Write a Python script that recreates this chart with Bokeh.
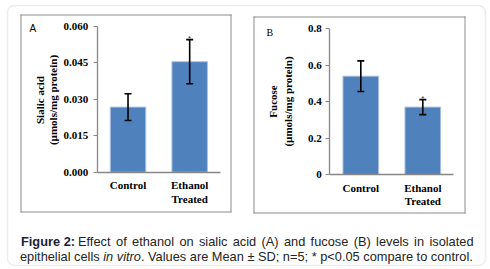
import math
from bokeh.plotting import figure
from bokeh.models import (Range1d, LinearAxis, FixedTicker, ColumnDataSource,
                          Whisker, TeeHead, Label, BoxAnnotation)
from bokeh.embed import file_html
from bokeh.resources import INLINE

# ---------------- data ----------------
categories = ["Control", "Ethanol\nTreated"]
sialic_mean = [0.0268, 0.0455]
sialic_sd = [0.0055, 0.0091]
sialic_sig = ["", "*"]
fucose_mean = [0.540, 0.370]
fucose_sd = [0.084, 0.041]
fucose_sig = ["", "*"]
sialic_ticks = [0.0, 0.015, 0.030, 0.045, 0.060]
sialic_tick_labels = ["0.000", "0.015", "0.030", "0.045", "0.060"]
fucose_ticks = [0.0, 0.2, 0.4, 0.6, 0.8]
fucose_tick_labels = ["0", "0.2", "0.4", "0.6", "0.8"]
sialic_title = "Sialic acid\n(\u00b5mols/mg protein)"
fucose_title = "Fucose\n(\u00b5mols/mg protein)"
caption_head = "Figure 2:"
caption_line1 = "Effect of ethanol on sialic acid (A) and fucose (B) levels in isolated"
caption_line2a = "epithelial cells "
caption_line2b = "in vitro"
caption_line2c = ". Values are Mean \u00b1 SD; n=5; * p<0.05 compare to control."

# ---------------- canvas geometry (page pixels) ----------------
OX, OY = 6, 4
W, H = 482, 262


def gx(px):
    return px - OX


def gy(py):
    return H - (py - OY)


p = figure(width=W, height=H, x_range=Range1d(0, W), y_range=Range1d(0, H),
           x_axis_type=None, y_axis_type=None, toolbar_location=None,
           output_backend="svg", min_border=0, title=None,
           margin=(OY, 0, 0, OX))
p.outline_line_color = None
p.background_fill_color = "white"
p.border_fill_color = "white"

SERIF = "Liberation Serif"
SANS = "Liberation Sans"
AXIS_COLOR = "#878787"
BOX_COLOR = "#8c8c8c"

# outer rounded frame
p.add_layout(BoxAnnotation(left=gx(7), right=gx(485), top=gy(5), bottom=gy(265),
                           fill_color=None, line_color="#c4c4c4", line_width=1.5,
                           border_radius=7))

# panel boxes drawn as thin filled strips (one per edge)
panel_boxes = [(20, 231, 14, 212), (253, 465, 16, 213)]
ql, qr, qt, qb = [], [], [], []
for l, r, t, b in panel_boxes:
    strips = [(l, r, t, t + 1),        # top
              (l, r, b - 1, b),        # bottom
              (l, l + 1, t, b),        # left
              (r - 1, r, t, b)]        # right
    for (a, c, d, e) in strips:
        ql.append(gx(a)); qr.append(gx(c)); qt.append(gy(d)); qb.append(gy(e))
p.quad(left=ql, right=qr, top=qt, bottom=qb, fill_color=BOX_COLOR,
       line_color=None, level="overlay")


def add_panel(name, means, sds, sig, ticks, tick_labels, geom, standoff):
    ax_x, ax_y0, ax_ytop, ax_xend = geom
    ymax = ticks[-1]
    ncat = len(categories)
    sx = (ax_xend - ax_x) / ncat
    p.extra_x_ranges[name] = Range1d(-gx(ax_x) / sx, (W - gx(ax_x)) / sx)
    sy = (ax_y0 - ax_ytop) / ymax
    c0 = gy(ax_y0)
    p.extra_y_ranges[name] = Range1d(-c0 / sy, (H - c0) / sy)

    xs = [i + 0.5 for i in range(ncat)]
    src = ColumnDataSource(dict(
        x=xs, mean=means,
        upper=[m + s for m, s in zip(means, sds)],
        lower=[m - s for m, s in zip(means, sds)],
        sig=sig))

    p.vbar(x="x", top="mean", width=0.575, source=src,
           x_range_name=name, y_range_name=name,
           fill_color="#4F81BD", line_color="#a9c0df", line_width=1)

    wh = Whisker(source=src, base="x", upper="upper", lower="lower",
                 dimension="height", x_range_name=name, y_range_name=name,
                 level="overlay",
                 line_color="black", line_width=1.6,
                 upper_head=TeeHead(size=7, line_color="black", line_width=1.6),
                 lower_head=TeeHead(size=7, line_color="black", line_width=1.6))
    p.add_layout(wh)

    p.text(x="x", y="upper", text="sig", source=src,
           x_range_name=name, y_range_name=name,
           text_align="center", text_baseline="middle",
           text_font_size="8px", text_color="#333333", y_offset=-1.5)

    yaxis = LinearAxis(x_range_name=name, y_range_name=name, fixed_location=0,
                       bounds=(0, ymax), ticker=FixedTicker(ticks=ticks),
                       major_label_overrides={t: l for t, l in zip(ticks, tick_labels)},
                       major_tick_out=4, major_tick_in=0,
                       minor_tick_line_color=None,
                       axis_line_color=AXIS_COLOR, major_tick_line_color=AXIS_COLOR,
                       axis_line_width=1.3,
                       major_label_text_font=SERIF,
                       major_label_text_font_style="bold",
                       major_label_text_font_size="11px",
                       major_label_text_color="black",
                       major_label_standoff=standoff)
    p.add_layout(yaxis, "left")

    xaxis = LinearAxis(x_range_name=name, y_range_name=name, fixed_location=0,
                       bounds=(0, ncat), ticker=FixedTicker(ticks=xs),
                       major_label_overrides={x: c for x, c in zip(xs, categories)},
                       major_tick_out=0, major_tick_in=0,
                       major_tick_line_color=None, minor_tick_line_color=None,
                       axis_line_color=AXIS_COLOR, axis_line_width=1.3,
                       major_label_text_font=SERIF,
                       major_label_text_font_style="bold",
                       major_label_text_font_size="11px",
                       major_label_text_color="black",
                       major_label_text_line_height=1.15,
                       major_label_standoff=7)
    p.add_layout(xaxis, "below")


add_panel("A", sialic_mean, sialic_sd, sialic_sig, sialic_ticks, sialic_tick_labels,
          (96.7, 171.7, 26.0, 220.0), 5)
add_panel("B", fucose_mean, fucose_sd, fucose_sig, fucose_ticks, fucose_tick_labels,
          (329.3, 174.0, 28.3, 453.3), 4)

# axis titles
p.add_layout(Label(x=gx(46), y=gy(99.5), text=sialic_title, angle=math.pi / 2,
                   text_align="center", text_baseline="middle",
                   text_font=SERIF, text_font_style="bold", text_font_size="11px",
                   text_line_height=1.1, text_color="black"))
p.add_layout(Label(x=gx(280), y=gy(101), text=fucose_title, angle=math.pi / 2,
                   text_align="center", text_baseline="middle",
                   text_font=SERIF, text_font_style="bold", text_font_size="11px",
                   text_line_height=1.25, text_color="black"))

# panel letters
p.add_layout(Label(x=gx(29), y=gy(28), text="A", text_align="left",
                   text_baseline="middle", text_font=SANS,
                   text_font_size="10px", text_color="black"))
p.add_layout(Label(x=gx(266), y=gy(31.5), text="B", text_align="left",
                   text_baseline="middle", text_font=SERIF,
                   text_font_size="10px", text_color="black"))

# caption (Arial/Liberation Sans metrics for justification of line 1)
AW = {'a': 556, 'b': 556, 'c': 500, 'd': 556, 'e': 556, 'f': 278, 'g': 556,
      'h': 556, 'i': 222, 'j': 222, 'k': 500, 'l': 222, 'm': 833, 'n': 556,
      'o': 556, 'p': 556, 'q': 556, 'r': 333, 's': 500, 't': 278, 'u': 556,
      'v': 500, 'w': 722, 'x': 500, 'y': 500, 'z': 500, 'A': 667, 'B': 667,
      'E': 667, '(': 333, ')': 333, ' ': 278}
FS = 12.8
CAP_COLOR = "#232323"
BASE1, BASE2 = 240.5, 256.0

p.add_layout(Label(x=gx(20.5), y=gy(BASE1), text=caption_head, text_font=SANS,
                   text_font_style="bold", text_font_size=f"{FS}px",
                   text_color="#1c2337", text_baseline="alphabetic"))

words = caption_line1.split(" ")
ww = [sum(AW.get(ch, 556) for ch in w) * FS / 1000 for w in words]
x_start, x_end = 77.5, 473.0
gap = (x_end - x_start - sum(ww)) / (len(words) - 1)
xc = x_start
for w, wdt in zip(words, ww):
    p.add_layout(Label(x=gx(xc), y=gy(BASE1), text=w, text_font=SANS,
                       text_font_size=f"{FS}px", text_color=CAP_COLOR,
                       text_baseline="alphabetic"))
    xc += wdt + gap

w2a = sum(AW.get(ch, 556) for ch in caption_line2a) * FS / 1000
w2b = sum(AW.get(ch, 556) for ch in caption_line2b) * FS / 1000
x2 = 19.5
p.add_layout(Label(x=gx(x2), y=gy(BASE2), text=caption_line2a, text_font=SANS,
                   text_font_size=f"{FS}px", text_color=CAP_COLOR,
                   text_baseline="alphabetic"))
p.add_layout(Label(x=gx(x2 + w2a), y=gy(BASE2), text=caption_line2b, text_font=SANS,
                   text_font_style="italic", text_font_size=f"{FS}px",
                   text_color=CAP_COLOR, text_baseline="alphabetic"))
p.add_layout(Label(x=gx(x2 + w2a + w2b), y=gy(BASE2), text=caption_line2c, text_font=SANS,
                   text_font_size=f"{FS}px", text_color=CAP_COLOR,
                   text_baseline="alphabetic"))

open("out.html", "w").write(file_html(p, INLINE))
